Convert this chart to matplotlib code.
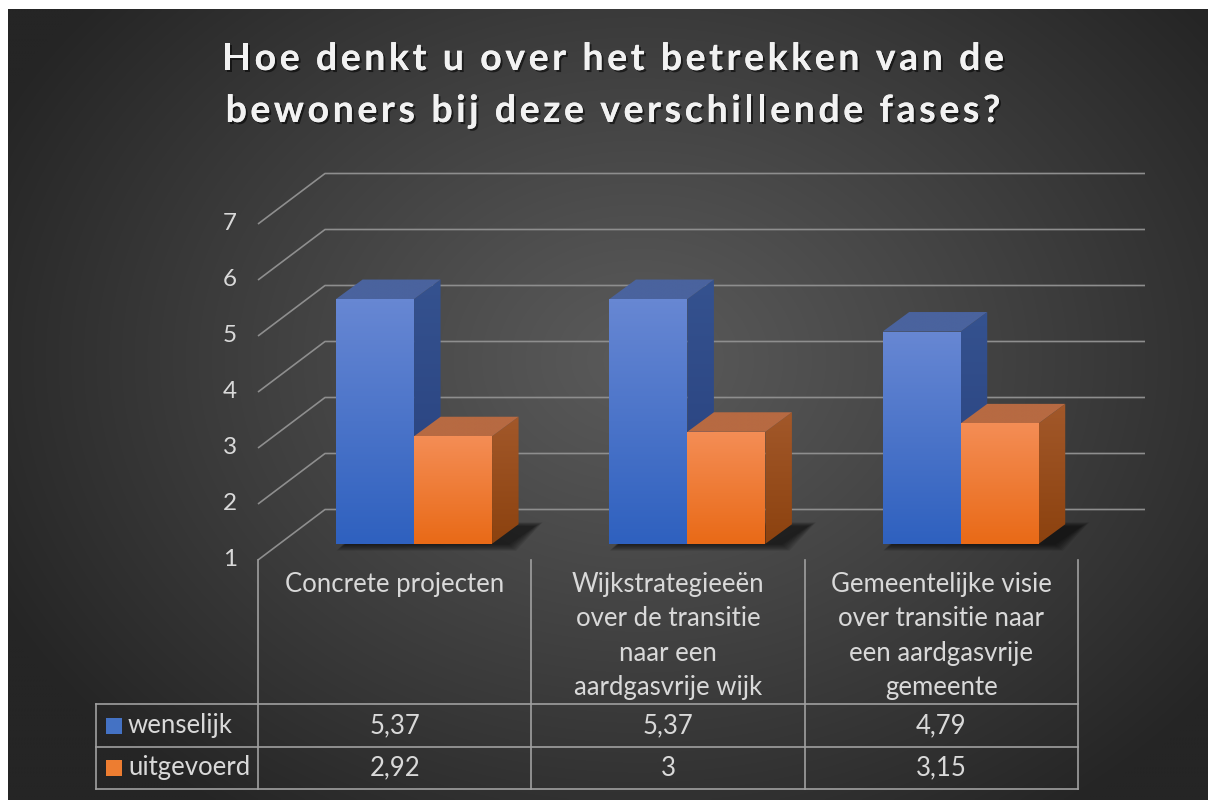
import numpy as np
import matplotlib
matplotlib.use("Agg")
import matplotlib.pyplot as plt
from matplotlib.patches import Polygon, Rectangle
import matplotlib.patheffects as pe
from matplotlib.colors import LinearSegmentedColormap

# ---------------- data ----------------
title_lines = ["Hoe denkt u over het betrekken van de",
               "bewoners bij deze verschillende fases?"]
categories = [
    "Concrete projecten",
    "Wijkstrategieeën\nover de transitie\nnaar een\naardgasvrije wijk",
    "Gemeentelijke visie\nover transitie naar\neen aardgasvrije\ngemeente",
]
series_names = ["wenselijk", "uitgevoerd"]
wenselijk = [5.37, 5.37, 4.79]
uitgevoerd = [2.92, 3.00, 3.15]
wenselijk_labels = ["5,37", "5,37", "4,79"]
uitgevoerd_labels = ["2,92", "3", "3,15"]
y_ticks = [1, 2, 3, 4, 5, 6, 7]

# ---------------- layout ----------------
W, H = 1208, 800
fig = plt.figure(figsize=(W / 100, H / 100), dpi=100, facecolor="white")
ax = fig.add_axes([0, 0, 1, 1])
ax.axis("off")

UX = 273.33  # pixels per category unit
UV = 56.0    # pixels per value unit
def X(p):  # pixel column -> data x
    return -0.5 + (p - 258) / UX
def V(p):  # pixel row (from top) -> data value
    return 1 + (560 - p) / UV

XMIN, XMAX = X(0), X(W)
VMIN, VMAX = V(H), V(0)

FONT = "Lato"
TXT = "#d9d9d9"
FS = 18.5

# background radial gradient
gx = np.linspace(8, W, 400)
gy = np.linspace(9, H, 300)
GX, GY = np.meshgrid(gx, gy)
r = np.sqrt(((GX - 640) / 720) ** 2 + ((GY - 360) / 560) ** 2)
r = np.clip(r, 0, 1) ** 1.1
c_in, c_out = 0x5a / 255, 0x25 / 255
g = c_in + (c_out - c_in) * r
bg = np.dstack([g, g, g])
ax.imshow(bg, extent=[X(8), X(W), V(H), V(9)], origin="upper", aspect="auto",
          zorder=0, interpolation="bilinear")

# depth offsets of the floor/back wall
DX, DV = 67 / UX, 50.5 / UV
GRID = "#8e8e8e"
n = len(categories)
for t in y_ticks:
    ax.plot([-0.5, -0.5 + DX, n - 0.5 + DX], [t, t + DV, t + DV],
            color=GRID, lw=1.2, zorder=1, solid_capstyle="butt")
    ax.text(X(237), t, str(t), ha="right", va="center", color=TXT,
            fontsize=17.5, family=FONT, zorder=5)

# ---------------- bars ----------------
FX, FV = 0.071, 0.29         # front face offset from depth-0 plane
BW = 78 / UX                 # bar width
BDX, BDV = 26.5 / UX, 19.5 / UV  # bar depth

def grad_face(pts, c_top, c_bot, z):
    pts = np.asarray(pts)
    poly = Polygon(pts, closed=True, facecolor="none", edgecolor="none", zorder=z)
    ax.add_patch(poly)
    cmap = LinearSegmentedColormap.from_list("g", [c_bot, c_top])
    arr = np.linspace(1, 0, 64).reshape(-1, 1)
    im = ax.imshow(arr, cmap=cmap, vmin=0, vmax=1, aspect="auto", origin="upper",
                   extent=[pts[:, 0].min(), pts[:, 0].max(), pts[:, 1].min(), pts[:, 1].max()],
                   zorder=z, interpolation="bilinear")
    im.set_clip_path(poly)

def bar3d(x0, val, colors, z):
    front_t, front_b, top_c, side_t, side_b = colors
    xl, xr = x0, x0 + BW
    b, t = 1 + FV, val + FV
    grad_face([(xr, b), (xr + BDX, b + BDV), (xr + BDX, t + BDV), (xr, t)], side_t, side_b, z)
    grad_face([(xl, t), (xr, t), (xr + BDX, t + BDV), (xl + BDX, t + BDV)], top_c, top_c, z)
    grad_face([(xl, b), (xr, b), (xr, t), (xl, t)], front_t, front_b, z + 0.5)

BLUE = ("#6787d3", "#2f61bf", "#4a639e", "#35528f", "#263f7c")
ORANGE = ("#f48d55", "#e96a17", "#b76a42", "#a2582a", "#8c420f")

for i in range(n):
    xb = i + FX - BW
    for k in range(8):
        e = 0.004 * k
        ev = 0.05 * k
        sx0 = xb + 0.03 - e
        sx1 = i + FX + BW + 0.06 + e
        ax.add_patch(Polygon([(sx0, 1 + FV - 0.02 - ev * 0.3), (sx1, 1 + FV - 0.02 - ev * 0.3),
                              (sx1 + BDX, 1 + FV + BDV * 0.9 + ev * 0.2),
                              (sx0 + BDX, 1 + FV + BDV * 0.9 + ev * 0.2)],
                             closed=True, facecolor="black", edgecolor="none",
                             alpha=0.09, zorder=2))
    bar3d(xb, wenselijk[i], BLUE, 3 + i * 2)
    bar3d(i + FX, uitgevoerd[i], ORANGE, 4 + i * 2)

# ---------------- data table ----------------
TL = "#a0a0a0"
y_top, y_r1, y_r2 = V(704), V(747), V(789)
x_leg = X(96)
for xc in np.arange(-0.5, n, 1.0):
    ax.plot([xc, xc], [1, y_r2], color=TL, lw=1.2, zorder=6)
for yy in (y_top, y_r1, y_r2):
    ax.plot([x_leg, n - 0.5], [yy, yy], color=TL, lw=1.2, zorder=6)
ax.plot([x_leg, x_leg], [y_top, y_r2], color=TL, lw=1.2, zorder=6)

for i, cat in enumerate(categories):
    ax.text(i, V(572), cat, ha="center", va="top", color=TXT, fontsize=FS,
            family=FONT, linespacing=1.47, zorder=6)

rows = [(wenselijk_labels, "#4472c4", series_names[0]),
        (uitgevoerd_labels, "#ed7d31", series_names[1])]
for r_i, (labels, col, name) in enumerate(rows):
    yc = (y_top + y_r1) / 2 if r_i == 0 else (y_r1 + y_r2) / 2
    sq_w = 16 / UX
    sq_h = 16 / UV
    ax.add_patch(Rectangle((X(106), yc - sq_h / 2), sq_w, sq_h, facecolor=col,
                           edgecolor="none", zorder=6))
    ax.text(X(128), yc, name, ha="left", va="center", color=TXT, fontsize=FS,
            family=FONT, zorder=6)
    for i, lab in enumerate(labels):
        ax.text(i, yc, lab, ha="center", va="center", color=TXT, fontsize=FS,
                family=FONT, zorder=6)

# ---------------- title (letter-spaced) ----------------
renderer = fig.canvas.get_renderer()
TFS = 27
SP = 3.6  # extra letter spacing in px
def tw(s):
    t = fig.text(0, 0, s, fontsize=TFS, fontweight="bold", family=FONT)
    w = t.get_window_extent(renderer).width
    t.remove()
    return w
wH = tw("H")
shadow = [pe.withSimplePatchShadow(offset=(1.5, -1.5), shadow_rgbFace="black", alpha=0.55),
          pe.Normal()]
for li, line in enumerate(title_lines):
    yc = 59 + li * 52
    total = tw(line) + SP * (len(line) - 1)
    x0 = 613 - total / 2
    for ci, ch in enumerate(line):
        if ch == " ":
            continue
        x = x0 + (tw(line[:ci] + "H") - wH) + ci * SP
        fig.text(x / W, 1 - yc / H, ch, ha="left", va="center", color="#f2f2f2",
                 fontsize=TFS, fontweight="bold", family=FONT, path_effects=shadow)

ax.set_xlim(XMIN, XMAX)
ax.set_ylim(VMIN, VMAX)
fig.savefig("out.png", dpi=100, facecolor=fig.get_facecolor())
